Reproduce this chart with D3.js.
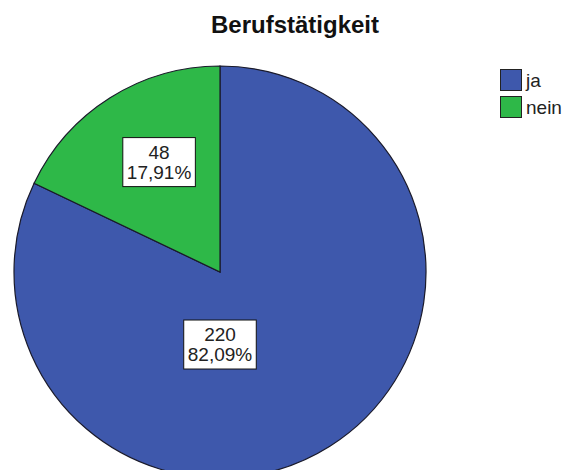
<!DOCTYPE html>
<html>
<head>
<meta charset="utf-8">
<script src="https://cdn.jsdelivr.net/npm/d3@7"></script>
<style>
  html, body { margin: 0; padding: 0; background: #fff; }
  svg { display: block; }
</style>
</head>
<body>
<svg id="chart" width="565" height="470"></svg>
<script>
// ---- data ----
const title = "Berufstätigkeit";
const categories = ["ja", "nein"];
const counts = [220, 48];
const colors = ["#3E58AC", "#2EB848"];

// ---- layout (not data) ----
const W = 565, H = 470;
const cx = 220, cy = 272, R = 206;
// label anchors: angle (deg clockwise from top) and radius fraction
const labelAnchors = [
  { angle: 180, frac: 0.352 },
  { angle: 331, frac: 0.61 }
];
const fontFamily = "'Liberation Sans', Arial, sans-serif";

const svg = d3.select("#chart");
svg.append("rect").attr("width", W).attr("height", H).attr("fill", "#fff");

// title
svg.append("text")
  .attr("x", 295).attr("y", 33)
  .attr("text-anchor", "middle")
  .attr("font-family", fontFamily)
  .attr("font-weight", "bold")
  .attr("font-size", 24)
  .attr("fill", "#111")
  .text(title);

const total = d3.sum(counts);
const locale = d3.formatLocale({ decimal: ",", thousands: ".", grouping: [3], currency: ["", " €"] });
const fmtPct = locale.format(".2f");

const data = categories.map((c, i) => ({ cat: c, value: counts[i], color: colors[i], idx: i }));
const pie = d3.pie().sort(null).value(d => d.value).startAngle(0).endAngle(2 * Math.PI);
const arc = d3.arc().innerRadius(0).outerRadius(R);

const g = svg.append("g").attr("transform", `translate(${cx},${cy})`);
g.selectAll("path.slice")
  .data(pie(data))
  .join("path")
  .attr("class", "slice")
  .attr("d", arc)
  .attr("fill", d => d.data.color)
  .attr("stroke", "#1a1a2a")
  .attr("stroke-width", 1.2);

// labels
const lineH = 20.5;
const labels = g.selectAll("g.lbl")
  .data(pie(data))
  .join("g")
  .attr("class", "lbl")
  .attr("transform", d => {
    const a = labelAnchors[d.data.idx];
    const rad = a.angle * Math.PI / 180;
    const r = a.frac * R;
    return `translate(${r * Math.sin(rad)},${-r * Math.cos(rad)})`;
  });

labels.each(function(d) {
  const sel = d3.select(this);
  const lines = [String(d.data.value), fmtPct(d.data.value / total * 100) + "%"];
  const rect = sel.append("rect").attr("fill", "#fff").attr("stroke", "#111").attr("stroke-width", 1);
  const t = sel.append("text")
    .attr("font-family", fontFamily)
    .attr("font-size", 19)
    .attr("fill", "#222")
    .attr("text-anchor", "middle");
  lines.forEach((ln, i) => {
    t.append("tspan")
      .attr("x", 0)
      .attr("y", (i - (lines.length - 1) / 2) * lineH)
      .attr("dy", "0.35em")
      .text(ln);
  });
  const bb = t.node().getBBox();
  const padX = 4, padY = 4;
  rect.attr("x", -bb.width / 2 - padX)
    .attr("y", -(lines.length * lineH) / 2 - padY)
    .attr("width", bb.width + 2 * padX)
    .attr("height", lines.length * lineH + 2 * padY);
});

// legend
const legX = 500, legY = 69, sq = 21, gap = 27;
const leg = svg.append("g");
const items = leg.selectAll("g.item")
  .data(data)
  .join("g")
  .attr("class", "item")
  .attr("transform", (d, i) => `translate(${legX},${legY + i * gap})`);
items.append("rect")
  .attr("x", 0.5).attr("y", 0.5)
  .attr("width", sq).attr("height", sq)
  .attr("fill", d => d.color)
  .attr("stroke", "#222").attr("stroke-width", 1);
items.append("text")
  .attr("x", sq + 5)
  .attr("y", sq / 2)
  .attr("dy", "0.38em")
  .attr("font-family", fontFamily)
  .attr("font-size", 19)
  .attr("fill", "#222")
  .text(d => d.cat);
</script>
</body>
</html>
